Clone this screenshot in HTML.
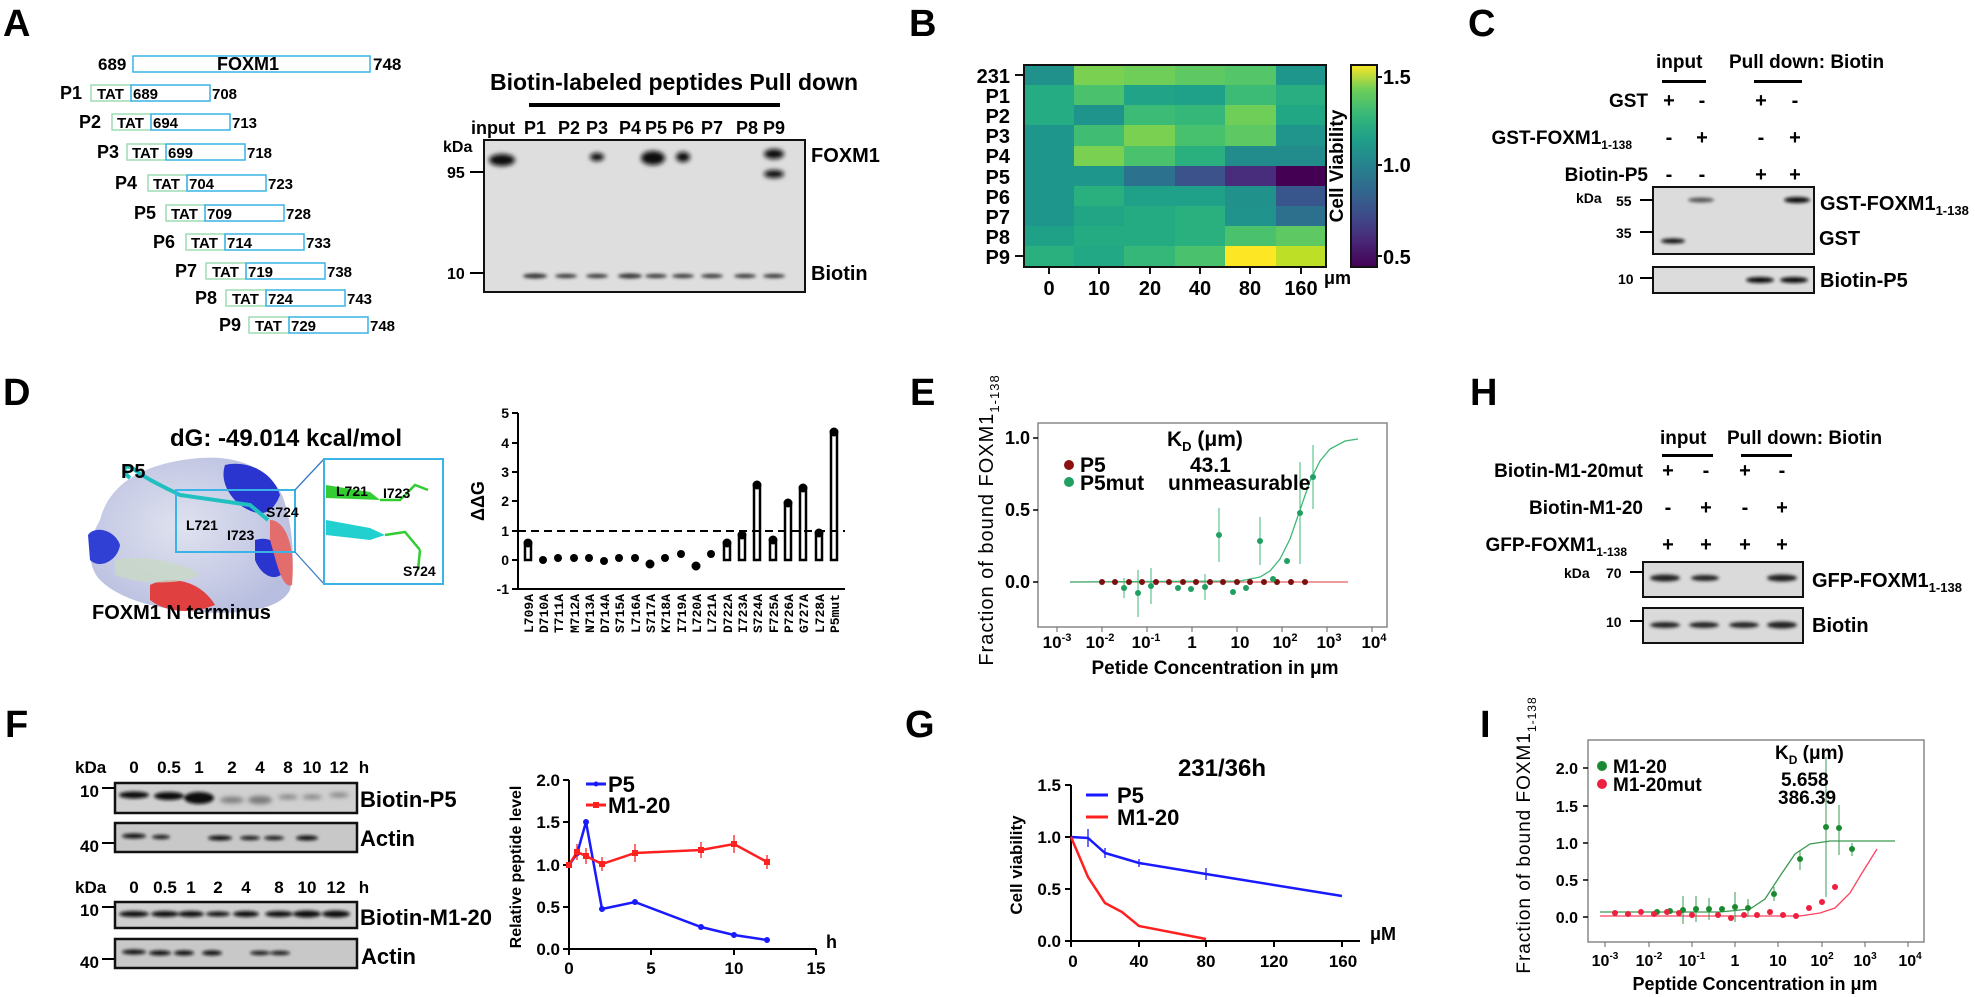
<!DOCTYPE html>
<html><head><meta charset="utf-8"><style>
html,body{margin:0;padding:0;background:#fff;}
svg{display:block;font-family:"Liberation Sans",Arial,sans-serif;}
.b{font-weight:bold;}
</style></head><body>
<svg width="1975" height="997" viewBox="0 0 1975 997" xmlns="http://www.w3.org/2000/svg">
<defs>
<filter id="bl" x="-50%" y="-200%" width="200%" height="500%"><feGaussianBlur stdDeviation="2.5"/></filter>
<filter id="bl2" x="-50%" y="-200%" width="200%" height="500%"><feGaussianBlur stdDeviation="1.5"/></filter>
<linearGradient id="vir" x1="0" y1="1" x2="0" y2="0">
<stop offset="0" stop-color="#440154"/><stop offset="0.13" stop-color="#482878"/><stop offset="0.25" stop-color="#3e4a89"/><stop offset="0.38" stop-color="#31688e"/><stop offset="0.5" stop-color="#26828e"/><stop offset="0.63" stop-color="#1f9e89"/><stop offset="0.75" stop-color="#35b779"/><stop offset="0.88" stop-color="#6ece58"/><stop offset="1" stop-color="#fde725"/></linearGradient>
<radialGradient id="prot" cx="0.45" cy="0.45" r="0.6"><stop offset="0" stop-color="#dfe2ee"/><stop offset="0.6" stop-color="#c9cde6"/><stop offset="1" stop-color="#b8bedf"/></radialGradient>
</defs>

<!-- Panel letters -->
<g class="b" font-size="38">
<text x="3" y="36">A</text><text x="909" y="36">B</text><text x="1468" y="36">C</text>
<text x="3" y="405">D</text><text x="910" y="405">E</text><text x="1470" y="405">H</text>
<text x="5" y="737">F</text><text x="905" y="737">G</text><text x="1480" y="737">I</text>
</g>

<!-- A diagram -->
<g class="b" font-size="17">
<text x="98" y="70">689</text>
<rect x="133" y="56" width="237" height="16" fill="none" stroke="#3ab3e6" stroke-width="1.5"/>
<text x="248" y="70" text-anchor="middle" font-size="18">FOXM1</text>
<text x="373" y="70">748</text>
</g>
<g font-size="15" class="b">
<!-- rows: label x, y center, TAT x -->
<g><text x="60" y="99" font-size="18">P1</text><rect x="91" y="85" width="40" height="16" fill="none" stroke="#8fd6a8" stroke-width="1.3"/><text x="97" y="99">TAT</text><rect x="131" y="85" width="79" height="16" fill="none" stroke="#3ab3e6" stroke-width="1.5"/><text x="133" y="99">689</text><text x="212" y="99">708</text></g>
<g><text x="79" y="128" font-size="18">P2</text><rect x="112" y="114" width="39" height="16" fill="none" stroke="#8fd6a8" stroke-width="1.3"/><text x="117" y="128">TAT</text><rect x="151" y="114" width="79" height="16" fill="none" stroke="#3ab3e6" stroke-width="1.5"/><text x="153" y="128">694</text><text x="232" y="128">713</text></g>
<g><text x="97" y="158" font-size="18">P3</text><rect x="127" y="144" width="39" height="16" fill="none" stroke="#8fd6a8" stroke-width="1.3"/><text x="132" y="158">TAT</text><rect x="166" y="144" width="79" height="16" fill="none" stroke="#3ab3e6" stroke-width="1.5"/><text x="168" y="158">699</text><text x="247" y="158">718</text></g>
<g><text x="115" y="189" font-size="18">P4</text><rect x="148" y="175" width="39" height="16" fill="none" stroke="#8fd6a8" stroke-width="1.3"/><text x="153" y="189">TAT</text><rect x="187" y="175" width="79" height="16" fill="none" stroke="#3ab3e6" stroke-width="1.5"/><text x="189" y="189">704</text><text x="268" y="189">723</text></g>
<g><text x="134" y="219" font-size="18">P5</text><rect x="166" y="205" width="39" height="16" fill="none" stroke="#8fd6a8" stroke-width="1.3"/><text x="171" y="219">TAT</text><rect x="205" y="205" width="79" height="16" fill="none" stroke="#3ab3e6" stroke-width="1.5"/><text x="207" y="219">709</text><text x="286" y="219">728</text></g>
<g><text x="153" y="248" font-size="18">P6</text><rect x="186" y="234" width="39" height="16" fill="none" stroke="#8fd6a8" stroke-width="1.3"/><text x="191" y="248">TAT</text><rect x="225" y="234" width="79" height="16" fill="none" stroke="#3ab3e6" stroke-width="1.5"/><text x="227" y="248">714</text><text x="306" y="248">733</text></g>
<g><text x="175" y="277" font-size="18">P7</text><rect x="206" y="263" width="40" height="16" fill="none" stroke="#8fd6a8" stroke-width="1.3"/><text x="212" y="277">TAT</text><rect x="246" y="263" width="79" height="16" fill="none" stroke="#3ab3e6" stroke-width="1.5"/><text x="248" y="277">719</text><text x="327" y="277">738</text></g>
<g><text x="195" y="304" font-size="18">P8</text><rect x="226" y="290" width="40" height="16" fill="none" stroke="#8fd6a8" stroke-width="1.3"/><text x="232" y="304">TAT</text><rect x="266" y="290" width="79" height="16" fill="none" stroke="#3ab3e6" stroke-width="1.5"/><text x="268" y="304">724</text><text x="347" y="304">743</text></g>
<g><text x="219" y="331" font-size="18">P9</text><rect x="249" y="317" width="40" height="16" fill="none" stroke="#8fd6a8" stroke-width="1.3"/><text x="255" y="331">TAT</text><rect x="289" y="317" width="79" height="16" fill="none" stroke="#3ab3e6" stroke-width="1.5"/><text x="291" y="331">729</text><text x="370" y="331">748</text></g>
</g>

<!-- A blot -->
<text x="490" y="90" class="b" font-size="23">Biotin-labeled peptides Pull down</text>
<rect x="529" y="103" width="251" height="4" fill="#000"/>
<g class="b" font-size="18" text-anchor="middle">
<text x="493" y="134">input</text><text x="535" y="134">P1</text><text x="569" y="134">P2</text><text x="597" y="134">P3</text><text x="630" y="134">P4</text><text x="656" y="134">P5</text><text x="683" y="134">P6</text><text x="712" y="134">P7</text><text x="747" y="134">P8</text><text x="774" y="134">P9</text>
</g>
<rect x="484" y="140" width="321" height="152" fill="#dedede" stroke="#111" stroke-width="2"/>
<g class="b" font-size="16"><text x="443" y="152">kDa</text><text x="447" y="178">95</text><text x="447" y="279">10</text></g>
<line x1="470" y1="172" x2="484" y2="172" stroke="#000" stroke-width="2"/><line x1="470" y1="273" x2="484" y2="273" stroke="#000" stroke-width="2"/>
<g fill="#111" filter="url(#bl)">
<ellipse cx="502" cy="160" rx="13" ry="6"/><ellipse cx="597" cy="157" rx="7" ry="4"/><ellipse cx="653" cy="158" rx="12" ry="7"/><ellipse cx="683" cy="157" rx="7" ry="5"/><ellipse cx="774" cy="154" rx="10" ry="5"/><ellipse cx="774" cy="174" rx="10" ry="4"/>
</g>
<g fill="#333" filter="url(#bl2)">
<ellipse cx="535" cy="276" rx="12" ry="2.5"/><ellipse cx="566" cy="276" rx="11" ry="2"/><ellipse cx="597" cy="276" rx="11" ry="2"/><ellipse cx="630" cy="276" rx="12" ry="2.5"/><ellipse cx="656" cy="276" rx="11" ry="2"/><ellipse cx="683" cy="276" rx="11" ry="2"/><ellipse cx="712" cy="276" rx="11" ry="2"/><ellipse cx="745" cy="276" rx="11" ry="2"/><ellipse cx="774" cy="276" rx="11" ry="2"/>
</g>
<g class="b" font-size="20"><text x="811" y="162">FOXM1</text><text x="811" y="280">Biotin</text></g>

<!-- B heatmap -->
<g>
<g id="hm"></g>
</g>
<g stroke="none">
<!-- rows -->
<rect x="1024" y="65" width="51" height="21" fill="#21918c"/><rect x="1074" y="65" width="51" height="21" fill="#7ad151"/><rect x="1124" y="65" width="51" height="21" fill="#6ece58"/><rect x="1175" y="65" width="51" height="21" fill="#5ec962"/><rect x="1225" y="65" width="51" height="21" fill="#54c568"/><rect x="1276" y="65" width="50" height="21" fill="#1f968b"/>
<rect x="1024" y="85" width="51" height="21" fill="#25ac82"/><rect x="1074" y="85" width="51" height="21" fill="#4ac16d"/><rect x="1124" y="85" width="51" height="21" fill="#20a386"/><rect x="1175" y="85" width="51" height="21" fill="#1fa088"/><rect x="1225" y="85" width="51" height="21" fill="#3bbb75"/><rect x="1276" y="85" width="50" height="21" fill="#28ae80"/>
<rect x="1024" y="105" width="51" height="21" fill="#25ac82"/><rect x="1074" y="105" width="51" height="21" fill="#1f948c"/><rect x="1124" y="105" width="51" height="21" fill="#3bbb75"/><rect x="1175" y="105" width="51" height="21" fill="#35b779"/><rect x="1225" y="105" width="51" height="21" fill="#6ece58"/><rect x="1276" y="105" width="50" height="21" fill="#22a785"/>
<rect x="1024" y="125" width="51" height="21" fill="#1f968b"/><rect x="1074" y="125" width="51" height="21" fill="#40bd72"/><rect x="1124" y="125" width="51" height="21" fill="#7ad151"/><rect x="1175" y="125" width="51" height="21" fill="#48c16e"/><rect x="1225" y="125" width="51" height="21" fill="#5ec962"/><rect x="1276" y="125" width="50" height="21" fill="#1f958b"/>
<rect x="1024" y="146" width="51" height="21" fill="#1f968b"/><rect x="1074" y="146" width="51" height="21" fill="#7ad151"/><rect x="1124" y="146" width="51" height="21" fill="#4ac16d"/><rect x="1175" y="146" width="51" height="21" fill="#2ab07f"/><rect x="1225" y="146" width="51" height="21" fill="#228c8d"/><rect x="1276" y="146" width="50" height="21" fill="#228c8d"/>
<rect x="1024" y="166" width="51" height="21" fill="#1f968b"/><rect x="1074" y="166" width="51" height="21" fill="#1f968b"/><rect x="1124" y="166" width="51" height="21" fill="#2c728e"/><rect x="1175" y="166" width="51" height="21" fill="#3b528b"/><rect x="1225" y="166" width="51" height="21" fill="#472d7b"/><rect x="1276" y="166" width="50" height="21" fill="#440154"/>
<rect x="1024" y="186" width="51" height="21" fill="#1f968b"/><rect x="1074" y="186" width="51" height="21" fill="#2ab07f"/><rect x="1124" y="186" width="51" height="21" fill="#1fa088"/><rect x="1175" y="186" width="51" height="21" fill="#1fa088"/><rect x="1225" y="186" width="51" height="21" fill="#21918c"/><rect x="1276" y="186" width="50" height="21" fill="#39568c"/>
<rect x="1024" y="206" width="51" height="21" fill="#1f968b"/><rect x="1074" y="206" width="51" height="21" fill="#21a585"/><rect x="1124" y="206" width="51" height="21" fill="#25ab82"/><rect x="1175" y="206" width="51" height="21" fill="#2ab07f"/><rect x="1225" y="206" width="51" height="21" fill="#20938c"/><rect x="1276" y="206" width="50" height="21" fill="#2d708e"/>
<rect x="1024" y="226" width="51" height="21" fill="#1fa188"/><rect x="1074" y="226" width="51" height="21" fill="#25ab82"/><rect x="1124" y="226" width="51" height="21" fill="#25ab82"/><rect x="1175" y="226" width="51" height="21" fill="#2ab07f"/><rect x="1225" y="226" width="51" height="21" fill="#4ac16d"/><rect x="1276" y="226" width="50" height="21" fill="#5ec962"/>
<rect x="1024" y="246" width="51" height="21" fill="#2ab07f"/><rect x="1074" y="246" width="51" height="21" fill="#22a884"/><rect x="1124" y="246" width="51" height="21" fill="#35b779"/><rect x="1175" y="246" width="51" height="21" fill="#4ac16d"/><rect x="1225" y="246" width="51" height="21" fill="#fde725"/><rect x="1276" y="246" width="50" height="21" fill="#bddf26"/>
</g>
<rect x="1024" y="65" width="302" height="202" fill="none" stroke="#111" stroke-width="2"/>
<g class="b" font-size="20" text-anchor="end">
<text x="1010" y="83">231</text><text x="1010" y="103">P1</text><text x="1010" y="123">P2</text><text x="1010" y="143">P3</text><text x="1010" y="163">P4</text><text x="1010" y="184">P5</text><text x="1010" y="204">P6</text><text x="1010" y="224">P7</text><text x="1010" y="244">P8</text><text x="1010" y="264">P9</text>
</g>
<g stroke="#111" stroke-width="2"><line x1="1015" y1="75" x2="1024" y2="75"/><line x1="1015" y1="256" x2="1024" y2="256"/>
<line x1="1049" y1="267" x2="1049" y2="274"/><line x1="1099" y1="267" x2="1099" y2="274"/><line x1="1150" y1="267" x2="1150" y2="274"/><line x1="1200" y1="267" x2="1200" y2="274"/><line x1="1250" y1="267" x2="1250" y2="274"/><line x1="1301" y1="267" x2="1301" y2="274"/></g>
<g class="b" font-size="20" text-anchor="middle">
<text x="1049" y="295">0</text><text x="1099" y="295">10</text><text x="1150" y="295">20</text><text x="1200" y="295">40</text><text x="1250" y="295">80</text><text x="1301" y="295">160</text>
</g>
<text x="1324" y="284" class="b" font-size="18">μm</text>
<rect x="1351" y="65" width="26" height="202" fill="url(#vir)" stroke="#111" stroke-width="2"/>
<g stroke="#111" stroke-width="2"><line x1="1377" y1="77" x2="1382" y2="77"/><line x1="1377" y1="165" x2="1382" y2="165"/><line x1="1377" y1="256" x2="1382" y2="256"/></g>
<g class="b" font-size="20"><text x="1383" y="84">1.5</text><text x="1383" y="172">1.0</text><text x="1383" y="264">0.5</text></g>
<text transform="translate(1343,166) rotate(-90)" text-anchor="middle" class="b" font-size="19">Cell Viability</text>

<!-- C -->
<g class="b" font-size="19">
<text x="1656" y="68">input</text><text x="1729" y="68">Pull down: Biotin</text>
<text x="1648" y="107" text-anchor="end">GST</text>
<text x="1632" y="144" text-anchor="end">GST-FOXM1<tspan font-size="12" dy="5">1-138</tspan></text>
<text x="1648" y="181" text-anchor="end">Biotin-P5</text>
</g>
<rect x="1662" y="80" width="44" height="3" fill="#000"/><rect x="1754" y="80" width="48" height="3" fill="#000"/>
<g class="b" font-size="20" text-anchor="middle">
<text x="1669" y="107">+</text><text x="1702" y="107">-</text><text x="1761" y="107">+</text><text x="1795" y="107">-</text>
<text x="1669" y="144">-</text><text x="1702" y="144">+</text><text x="1761" y="144">-</text><text x="1795" y="144">+</text>
<text x="1669" y="181">-</text><text x="1702" y="181">-</text><text x="1761" y="181">+</text><text x="1795" y="181">+</text>
</g>
<rect x="1653" y="187" width="161" height="67" fill="#dcdcdc" stroke="#111" stroke-width="2"/>
<rect x="1653" y="267" width="161" height="26" fill="#dcdcdc" stroke="#111" stroke-width="2"/>
<g fill="#111" filter="url(#bl2)"><ellipse cx="1701" cy="200" rx="13" ry="2.5" fill="#555"/><ellipse cx="1797" cy="200" rx="13" ry="3"/><ellipse cx="1673" cy="241" rx="12" ry="2.5"/><ellipse cx="1760" cy="280" rx="14" ry="3"/><ellipse cx="1794" cy="280" rx="14" ry="3"/></g>
<g class="b" font-size="14"><text x="1576" y="203">kDa</text><text x="1616" y="206">55</text><text x="1616" y="238">35</text><text x="1618" y="284">10</text></g>
<g stroke="#000" stroke-width="2"><line x1="1640" y1="200" x2="1653" y2="200"/><line x1="1640" y1="232" x2="1653" y2="232"/><line x1="1640" y1="278" x2="1653" y2="278"/></g>
<g class="b" font-size="20"><text x="1820" y="210">GST-FOXM1<tspan font-size="13" dy="5">1-138</tspan></text><text x="1819" y="245">GST</text><text x="1820" y="287">Biotin-P5</text></g>

<!-- H -->
<g class="b" font-size="19">
<text x="1660" y="444">input</text><text x="1727" y="444">Pull down: Biotin</text>
<text x="1643" y="477" text-anchor="end">Biotin-M1-20mut</text>
<text x="1643" y="514" text-anchor="end">Biotin-M1-20</text>
<text x="1627" y="551" text-anchor="end">GFP-FOXM1<tspan font-size="12" dy="5">1-138</tspan></text>
</g>
<rect x="1662" y="454" width="51" height="3" fill="#000"/><rect x="1741" y="454" width="51" height="3" fill="#000"/>
<g class="b" font-size="20" text-anchor="middle">
<text x="1668" y="477">+</text><text x="1706" y="477">-</text><text x="1745" y="477">+</text><text x="1782" y="477">-</text>
<text x="1668" y="514">-</text><text x="1706" y="514">+</text><text x="1745" y="514">-</text><text x="1782" y="514">+</text>
<text x="1668" y="551">+</text><text x="1706" y="551">+</text><text x="1745" y="551">+</text><text x="1782" y="551">+</text>
</g>
<rect x="1643" y="562" width="160" height="35" fill="#dadada" stroke="#111" stroke-width="2"/>
<rect x="1643" y="608" width="160" height="35" fill="#dadada" stroke="#111" stroke-width="2"/>
<g fill="#222" filter="url(#bl2)"><ellipse cx="1665" cy="578" rx="15" ry="3.5"/><ellipse cx="1705" cy="578" rx="14" ry="3"/><ellipse cx="1782" cy="578" rx="15" ry="3.5"/>
<ellipse cx="1665" cy="625" rx="15" ry="3"/><ellipse cx="1704" cy="625" rx="15" ry="3"/><ellipse cx="1744" cy="625" rx="15" ry="3"/><ellipse cx="1782" cy="625" rx="15" ry="3.5"/></g>
<g class="b" font-size="14"><text x="1564" y="578">kDa</text><text x="1606" y="578">70</text><text x="1606" y="627">10</text></g>
<g stroke="#000" stroke-width="2"><line x1="1630" y1="572" x2="1643" y2="572"/><line x1="1630" y1="621" x2="1643" y2="621"/></g>
<g class="b" font-size="20"><text x="1812" y="587">GFP-FOXM1<tspan font-size="13" dy="5">1-138</tspan></text><text x="1812" y="632">Biotin</text></g>

<!-- D structure -->
<text x="170" y="446" class="b" font-size="24">dG: -49.014 kcal/mol</text>
<g>
<path d="M100,520 C110,480 150,462 200,458 C240,455 270,470 282,495 C292,520 296,560 290,590 C280,610 240,615 200,612 C160,610 120,600 100,580 C86,565 88,540 100,520 Z" fill="url(#prot)"/>
<path d="M225,465 C245,460 272,470 280,495 C270,520 255,515 240,505 C228,495 220,480 225,465 Z" fill="#2a35d0"/>
<path d="M88,535 C95,525 115,530 120,545 C118,560 100,570 90,560 Z" fill="#3040d5"/>
<path d="M255,540 C270,535 285,545 288,565 C280,585 262,578 255,560 Z" fill="#2a35d0"/>
<path d="M150,585 C170,575 200,580 215,605 C190,615 165,612 150,600 Z" fill="#e04040"/>
<path d="M270,520 C285,520 296,545 292,585 C282,590 276,560 270,540 Z" fill="#e36c6c"/>
<path d="M115,560 C140,555 180,560 200,575 C180,585 140,585 115,575 Z" fill="#c8d8c6" opacity="0.8"/>
</g>
<path d="M130,478 C120,470 125,462 135,470 C145,478 160,485 180,495 L250,505 L268,520" fill="none" stroke="#20c0c0" stroke-width="4"/>
<text x="121" y="478" class="b" font-size="20">P5</text>
<rect x="176" y="490" width="119" height="62" fill="none" stroke="#3ab3e6" stroke-width="2"/>
<g class="b" font-size="14"><text x="186" y="530">L721</text><text x="227" y="540">I723</text><text x="266" y="517">S724</text></g>
<line x1="295" y1="490" x2="324" y2="459" stroke="#3a7ac6" stroke-width="1.3"/><line x1="295" y1="552" x2="324" y2="584" stroke="#3a7ac6" stroke-width="1.3"/>
<rect x="324" y="459" width="119" height="125" fill="#fff" stroke="#3ab3e6" stroke-width="2"/>
<path d="M326,485 L370,492 L380,500 L326,498 Z" fill="#33cc33"/>
<path d="M326,520 L370,528 L385,535 L370,540 L326,535 Z" fill="#22d0d0"/>
<path d="M380,500 L400,500 L415,485 L428,490 M385,535 L405,532 L420,550 M420,550 L418,570" stroke="#33cc33" stroke-width="2.5" fill="none"/>
<g class="b" font-size="14"><text x="336" y="496">L721</text><text x="383" y="498">I723</text><text x="403" y="576">S724</text></g>
<text x="92" y="619" class="b" font-size="20">FOXM1 N terminus</text>

<!-- D bar chart -->
<g stroke="#000" stroke-width="2"><line x1="518" y1="413" x2="518" y2="589"/><line x1="518" y1="589" x2="845" y2="589"/>
<line x1="512" y1="413" x2="518" y2="413"/><line x1="512" y1="443" x2="518" y2="443"/><line x1="512" y1="472" x2="518" y2="472"/><line x1="512" y1="501" x2="518" y2="501"/><line x1="512" y1="531" x2="518" y2="531"/><line x1="512" y1="560" x2="518" y2="560"/><line x1="512" y1="589" x2="518" y2="589"/></g>
<g class="b" font-size="14" text-anchor="end"><text x="509" y="418">5</text><text x="509" y="448">4</text><text x="509" y="477">3</text><text x="509" y="506">2</text><text x="509" y="536">1</text><text x="509" y="565">0</text><text x="509" y="594">-1</text></g>
<text transform="translate(484,501) rotate(-90)" text-anchor="middle" class="b" font-size="18">ΔΔG</text>
<g fill="#fff" stroke="#000" stroke-width="2.5">
<rect x="525" y="545" width="6" height="15"/><rect x="724" y="545" width="6" height="15"/><rect x="739" y="537" width="6" height="23"/><rect x="754" y="487" width="6" height="73"/><rect x="770" y="542" width="6" height="18"/><rect x="785" y="505" width="6" height="55"/><rect x="800" y="490" width="6" height="70"/><rect x="831" y="434" width="6" height="126"/><rect x="816" y="535" width="6" height="25"/>
</g>
<g fill="#000">
<circle cx="528" cy="543" r="4.5"/><circle cx="543" cy="560" r="4"/><circle cx="558" cy="558" r="4"/><circle cx="574" cy="558" r="4"/><circle cx="589" cy="558" r="4"/><circle cx="604" cy="561" r="4"/><circle cx="619" cy="558" r="4"/><circle cx="635" cy="558" r="4"/><circle cx="650" cy="564" r="4.5"/><circle cx="665" cy="558" r="4"/><circle cx="727" cy="543" r="4.5"/><circle cx="742" cy="535" r="4.5"/><circle cx="757" cy="485" r="4.5"/><circle cx="773" cy="540" r="4.5"/><circle cx="788" cy="503" r="4.5"/><circle cx="803" cy="488" r="4.5"/><circle cx="819" cy="533" r="4.5"/><circle cx="834" cy="432" r="4.5"/><circle cx="681" cy="554" r="4"/><circle cx="696" cy="566" r="4.5"/><circle cx="711" cy="554" r="4"/>
</g>
<line x1="518" y1="531" x2="845" y2="531" stroke="#000" stroke-width="2" stroke-dasharray="8,5"/>
<g class="b" font-size="13" font-family="Liberation Mono, monospace" text-anchor="end">
<text transform="translate(533,594) rotate(-90)">L709A</text><text transform="translate(548,594) rotate(-90)">D710A</text><text transform="translate(563,594) rotate(-90)">T711A</text><text transform="translate(579,594) rotate(-90)">M712A</text><text transform="translate(594,594) rotate(-90)">N713A</text><text transform="translate(609,594) rotate(-90)">D714A</text><text transform="translate(624,594) rotate(-90)">S715A</text><text transform="translate(640,594) rotate(-90)">L716A</text><text transform="translate(655,594) rotate(-90)">S717A</text><text transform="translate(670,594) rotate(-90)">K718A</text><text transform="translate(686,594) rotate(-90)">I719A</text><text transform="translate(701,594) rotate(-90)">L720A</text><text transform="translate(716,594) rotate(-90)">L721A</text><text transform="translate(732,594) rotate(-90)">D722A</text><text transform="translate(747,594) rotate(-90)">I723A</text><text transform="translate(762,594) rotate(-90)">S724A</text><text transform="translate(778,594) rotate(-90)">F725A</text><text transform="translate(793,594) rotate(-90)">P726A</text><text transform="translate(808,594) rotate(-90)">G727A</text><text transform="translate(824,594) rotate(-90)">L728A</text><text transform="translate(839,594) rotate(-90)">P5mut</text>
</g>

<!-- E -->
<rect x="1038" y="423" width="349" height="204" fill="#fff" stroke="#888" stroke-width="1.5"/>
<g stroke="#000" stroke-width="1.5"><line x1="1033" y1="438" x2="1038" y2="438"/><line x1="1033" y1="510" x2="1038" y2="510"/><line x1="1033" y1="582" x2="1038" y2="582"/></g>
<g class="b" font-size="18" text-anchor="end"><text x="1030" y="444">1.0</text><text x="1030" y="516">0.5</text><text x="1030" y="588">0.0</text></g>
<text transform="translate(993,520) rotate(-90)" text-anchor="middle" font-size="20" letter-spacing="1">Fraction of bound FOXM1<tspan font-size="13" dy="6">1-138</tspan></text>
<g stroke="#666" stroke-width="1"><line x1="1057" y1="627" x2="1057" y2="632"/><line x1="1102" y1="627" x2="1102" y2="632"/><line x1="1147" y1="627" x2="1147" y2="632"/><line x1="1192" y1="627" x2="1192" y2="632"/><line x1="1237" y1="627" x2="1237" y2="632"/><line x1="1282" y1="627" x2="1282" y2="632"/><line x1="1327" y1="627" x2="1327" y2="632"/><line x1="1372" y1="627" x2="1372" y2="632"/></g>
<g class="b" font-size="17" text-anchor="middle">
<text x="1057" y="648">10<tspan font-size="11" dy="-7">-3</tspan></text><text x="1100" y="648">10<tspan font-size="11" dy="-7">-2</tspan></text><text x="1146" y="648">10<tspan font-size="11" dy="-7">-1</tspan></text><text x="1192" y="648">1</text><text x="1240" y="648">10</text><text x="1285" y="648">10<tspan font-size="11" dy="-7">2</tspan></text><text x="1329" y="648">10<tspan font-size="11" dy="-7">3</tspan></text><text x="1374" y="648">10<tspan font-size="11" dy="-7">4</tspan></text>
</g>
<text x="1215" y="674" text-anchor="middle" class="b" font-size="19">Petide Concentration in μm</text>
<line x1="1070" y1="582" x2="1348" y2="582" stroke="#e06060" stroke-width="1.3"/>
<polyline points="1070,582 1240,581 1260,577 1270,571 1280,559 1290,539 1300,510 1310,481 1320,461 1330,449 1345,441 1358,439" fill="none" stroke="#3cb878" stroke-width="1.3"/>
<g stroke="#3cb878" stroke-width="1"><line x1="1138" y1="570" x2="1138" y2="617"/><line x1="1151" y1="568" x2="1151" y2="604"/><line x1="1219" y1="508" x2="1219" y2="562"/><line x1="1260" y1="517" x2="1260" y2="565"/><line x1="1300" y1="462" x2="1300" y2="564"/><line x1="1313" y1="445" x2="1313" y2="509"/><line x1="1124" y1="578" x2="1124" y2="598"/><line x1="1205" y1="574" x2="1205" y2="600"/></g>
<g fill="#7b1010"><circle cx="1102" cy="582" r="3"/><circle cx="1115" cy="582" r="3"/><circle cx="1129" cy="582" r="3"/><circle cx="1142" cy="582" r="3"/><circle cx="1156" cy="582" r="3"/><circle cx="1169" cy="582" r="3"/><circle cx="1183" cy="582" r="3"/><circle cx="1196" cy="582" r="3"/><circle cx="1210" cy="582" r="3"/><circle cx="1223" cy="582" r="3"/><circle cx="1237" cy="582" r="3"/><circle cx="1250" cy="582" r="3"/><circle cx="1264" cy="582" r="3"/><circle cx="1277" cy="582" r="3"/><circle cx="1291" cy="582" r="3"/><circle cx="1305" cy="582" r="3"/></g>
<g fill="#20a060"><circle cx="1124" cy="588" r="3"/><circle cx="1138" cy="593" r="3"/><circle cx="1151" cy="586" r="3"/><circle cx="1178" cy="588" r="3"/><circle cx="1191" cy="589" r="3"/><circle cx="1205" cy="587" r="3"/><circle cx="1219" cy="535" r="3"/><circle cx="1233" cy="592" r="3"/><circle cx="1246" cy="588" r="3"/><circle cx="1260" cy="541" r="3"/><circle cx="1273" cy="579" r="3"/><circle cx="1287" cy="561" r="3"/><circle cx="1300" cy="513" r="3"/><circle cx="1313" cy="477" r="3"/></g>
<circle cx="1069" cy="465" r="5" fill="#8b1010"/><circle cx="1069" cy="482" r="5" fill="#20a060"/>
<g class="b" font-size="21"><text x="1080" y="472">P5</text><text x="1190" y="472">43.1</text><text x="1080" y="490">P5mut</text><text x="1168" y="490">unmeasurable</text><text x="1167" y="446">K<tspan font-size="13" dy="5">D</tspan><tspan dy="-5"> (μm)</tspan></text></g>

<!-- F blots -->
<g class="b" font-size="17">
<text x="75" y="773">kDa</text><g text-anchor="middle"><text x="134" y="773">0</text><text x="169" y="773">0.5</text><text x="199" y="773">1</text><text x="232" y="773">2</text><text x="260" y="773">4</text><text x="288" y="773">8</text><text x="312" y="773">10</text><text x="339" y="773">12</text><text x="364" y="773">h</text></g>
<text x="75" y="893">kDa</text><g text-anchor="middle"><text x="134" y="893">0</text><text x="165" y="893">0.5</text><text x="191" y="893">1</text><text x="218" y="893">2</text><text x="246" y="893">4</text><text x="279" y="893">8</text><text x="307" y="893">10</text><text x="336" y="893">12</text><text x="364" y="893">h</text></g>
<text x="80" y="797">10</text><text x="80" y="852">40</text><text x="80" y="916">10</text><text x="80" y="968">40</text>
</g>
<g stroke="#000" stroke-width="2"><line x1="102" y1="788" x2="115" y2="788"/><line x1="102" y1="843" x2="115" y2="843"/><line x1="102" y1="907" x2="115" y2="907"/><line x1="102" y1="959" x2="115" y2="959"/></g>
<rect x="115" y="783" width="242" height="30" fill="#d0d0d0" stroke="#111" stroke-width="2.5"/>
<rect x="115" y="823" width="242" height="29" fill="#c8c8c8" stroke="#111" stroke-width="2.5"/>
<rect x="115" y="902" width="242" height="26" fill="#d0d0d0" stroke="#111" stroke-width="2.5"/>
<rect x="115" y="939" width="242" height="29" fill="#c8c8c8" stroke="#111" stroke-width="2.5"/>
<g fill="#111" filter="url(#bl2)"><ellipse cx="134" cy="795" rx="15" ry="3.5"/><ellipse cx="169" cy="796" rx="15" ry="4"/><ellipse cx="199" cy="798" rx="15" ry="6"/>
<ellipse cx="134" cy="914" rx="15" ry="3"/><ellipse cx="165" cy="914" rx="14" ry="3"/><ellipse cx="191" cy="914" rx="13" ry="3"/><ellipse cx="218" cy="914" rx="12" ry="2.5"/><ellipse cx="246" cy="914" rx="13" ry="3"/><ellipse cx="279" cy="914" rx="14" ry="3"/><ellipse cx="307" cy="914" rx="14" ry="3.5"/><ellipse cx="336" cy="914" rx="14" ry="3.5"/>
<ellipse cx="134" cy="836" rx="12" ry="2.5"/><ellipse cx="161" cy="837" rx="9" ry="2"/><ellipse cx="220" cy="838" rx="12" ry="2.5"/><ellipse cx="250" cy="838" rx="10" ry="2"/><ellipse cx="274" cy="838" rx="10" ry="2"/><ellipse cx="307" cy="838" rx="11" ry="2.5"/>
<ellipse cx="134" cy="952" rx="12" ry="2.5"/><ellipse cx="160" cy="953" rx="11" ry="2.5"/><ellipse cx="184" cy="953" rx="10" ry="2.5"/><ellipse cx="212" cy="953" rx="10" ry="2.5"/><ellipse cx="260" cy="953" rx="10" ry="2"/><ellipse cx="280" cy="953" rx="10" ry="2"/></g>
<g fill="#777" filter="url(#bl)"><ellipse cx="232" cy="800" rx="12" ry="3"/><ellipse cx="260" cy="800" rx="12" ry="4"/><ellipse cx="288" cy="797" rx="10" ry="2"/><ellipse cx="312" cy="797" rx="10" ry="2"/><ellipse cx="339" cy="795" rx="10" ry="2"/></g>
<g class="b" font-size="22"><text x="360" y="807">Biotin-P5</text><text x="360" y="846">Actin</text><text x="360" y="925">Biotin-M1-20</text><text x="361" y="964">Actin</text></g>

<!-- F chart -->
<g stroke="#000" stroke-width="2"><line x1="569" y1="780" x2="569" y2="949"/><line x1="569" y1="949" x2="816" y2="949"/>
<line x1="563" y1="780" x2="569" y2="780"/><line x1="563" y1="822" x2="569" y2="822"/><line x1="563" y1="865" x2="569" y2="865"/><line x1="563" y1="907" x2="569" y2="907"/><line x1="563" y1="949" x2="569" y2="949"/>
<line x1="569" y1="949" x2="569" y2="955"/><line x1="651" y1="949" x2="651" y2="955"/><line x1="734" y1="949" x2="734" y2="955"/><line x1="816" y1="949" x2="816" y2="955"/></g>
<g class="b" font-size="17" text-anchor="end"><text x="560" y="786">2.0</text><text x="560" y="828">1.5</text><text x="560" y="871">1.0</text><text x="560" y="913">0.5</text><text x="560" y="955">0.0</text></g>
<g class="b" font-size="17" text-anchor="middle"><text x="569" y="974">0</text><text x="651" y="974">5</text><text x="734" y="974">10</text><text x="816" y="974">15</text></g>
<text x="826" y="948" class="b" font-size="18">h</text>
<text transform="translate(521,867) rotate(-90)" text-anchor="middle" class="b" font-size="16">Relative peptide level</text>
<polyline points="569,865 577,854 586,822 602,909 635,902 701,927 734,935 767,940" fill="none" stroke="#1a1aff" stroke-width="2.5"/>
<polyline points="569,865 577,852 586,856 602,864 635,853 701,850 734,844 767,862" fill="none" stroke="#ff2020" stroke-width="2.5"/>
<g fill="#1a1aff"><circle cx="569" cy="865" r="2.5"/><circle cx="577" cy="854" r="2.5"/><circle cx="586" cy="822" r="3"/><circle cx="602" cy="909" r="3"/><circle cx="635" cy="902" r="3"/><circle cx="701" cy="927" r="3"/><circle cx="734" cy="935" r="3"/><circle cx="767" cy="940" r="3"/></g>
<g fill="#ff2020"><rect x="566" y="862" width="6" height="6"/><rect x="574" y="849" width="6" height="6"/><rect x="583" y="853" width="6" height="6"/><rect x="599" y="861" width="6" height="6"/><rect x="632" y="850" width="6" height="6"/><rect x="698" y="847" width="6" height="6"/><rect x="731" y="841" width="6" height="6"/><rect x="764" y="859" width="6" height="6"/></g>
<g stroke="#ff2020" stroke-width="1.3"><line x1="577" y1="844" x2="577" y2="860"/><line x1="586" y1="848" x2="586" y2="864"/><line x1="602" y1="857" x2="602" y2="871"/><line x1="635" y1="844" x2="635" y2="862"/><line x1="701" y1="842" x2="701" y2="858"/><line x1="734" y1="835" x2="734" y2="853"/><line x1="767" y1="855" x2="767" y2="869"/></g>
<line x1="586" y1="784" x2="606" y2="784" stroke="#1a1aff" stroke-width="3"/><circle cx="596" cy="784" r="2.5" fill="#1a1aff"/>
<line x1="586" y1="805" x2="606" y2="805" stroke="#ff2020" stroke-width="3"/><rect x="593" y="802" width="6" height="6" fill="#ff2020"/>
<g class="b" font-size="22"><text x="608" y="792">P5</text><text x="608" y="813">M1-20</text></g>

<!-- G chart -->
<text x="1222" y="776" text-anchor="middle" class="b" font-size="24">231/36h</text>
<g stroke="#000" stroke-width="2"><line x1="1071" y1="785" x2="1071" y2="941"/><line x1="1071" y1="941" x2="1360" y2="941"/>
<line x1="1065" y1="785" x2="1071" y2="785"/><line x1="1065" y1="837" x2="1071" y2="837"/><line x1="1065" y1="889" x2="1071" y2="889"/><line x1="1065" y1="941" x2="1071" y2="941"/>
<line x1="1071" y1="941" x2="1071" y2="947"/><line x1="1139" y1="941" x2="1139" y2="947"/><line x1="1206" y1="941" x2="1206" y2="947"/><line x1="1274" y1="941" x2="1274" y2="947"/><line x1="1342" y1="941" x2="1342" y2="947"/></g>
<g class="b" font-size="17" text-anchor="end"><text x="1061" y="791">1.5</text><text x="1061" y="843">1.0</text><text x="1061" y="895">0.5</text><text x="1061" y="947">0.0</text></g>
<g class="b" font-size="17" text-anchor="middle"><text x="1073" y="967">0</text><text x="1139" y="967">40</text><text x="1206" y="967">80</text><text x="1274" y="967">120</text><text x="1343" y="967">160</text></g>
<text x="1370" y="940" class="b" font-size="18">μM</text>
<text transform="translate(1022,865) rotate(-90)" text-anchor="middle" class="b" font-size="17">Cell viability</text>
<polyline points="1071,837 1088,838 1105,853 1139,863 1206,874 1342,896" fill="none" stroke="#1a1aff" stroke-width="2.5"/>
<polyline points="1071,837 1088,877 1105,903 1122,912 1139,926 1206,939" fill="none" stroke="#ff2020" stroke-width="2.5"/>
<g stroke="#1a1aff" stroke-width="1.3"><line x1="1088" y1="829" x2="1088" y2="847"/><line x1="1105" y1="848" x2="1105" y2="858"/><line x1="1139" y1="859" x2="1139" y2="867"/><line x1="1206" y1="868" x2="1206" y2="880"/></g>
<line x1="1086" y1="795" x2="1108" y2="795" stroke="#1a1aff" stroke-width="3"/><line x1="1086" y1="817" x2="1108" y2="817" stroke="#ff2020" stroke-width="3"/>
<g class="b" font-size="22"><text x="1117" y="803">P5</text><text x="1117" y="825">M1-20</text></g>

<!-- I chart -->
<rect x="1588" y="740" width="336" height="202" fill="#fff" stroke="#888" stroke-width="1.5"/>
<g stroke="#000" stroke-width="1.5"><line x1="1583" y1="768" x2="1588" y2="768"/><line x1="1583" y1="806" x2="1588" y2="806"/><line x1="1583" y1="843" x2="1588" y2="843"/><line x1="1583" y1="880" x2="1588" y2="880"/><line x1="1583" y1="917" x2="1588" y2="917"/></g>
<g class="b" font-size="16" text-anchor="end"><text x="1578" y="774">2.0</text><text x="1578" y="812">1.5</text><text x="1578" y="849">1.0</text><text x="1578" y="886">0.5</text><text x="1578" y="923">0.0</text></g>
<text transform="translate(1530,835) rotate(-90)" text-anchor="middle" font-size="19" letter-spacing="1">Fraction of bound FOXM1<tspan font-size="12" dy="6">1-138</tspan></text>
<g stroke="#666" stroke-width="1"><line x1="1605" y1="942" x2="1605" y2="947"/><line x1="1649" y1="942" x2="1649" y2="947"/><line x1="1692" y1="942" x2="1692" y2="947"/><line x1="1735" y1="942" x2="1735" y2="947"/><line x1="1778" y1="942" x2="1778" y2="947"/><line x1="1822" y1="942" x2="1822" y2="947"/><line x1="1865" y1="942" x2="1865" y2="947"/><line x1="1908" y1="942" x2="1908" y2="947"/></g>
<g class="b" font-size="16" text-anchor="middle">
<text x="1605" y="966">10<tspan font-size="10" dy="-7">-3</tspan></text><text x="1649" y="966">10<tspan font-size="10" dy="-7">-2</tspan></text><text x="1692" y="966">10<tspan font-size="10" dy="-7">-1</tspan></text><text x="1735" y="966">1</text><text x="1778" y="966">10</text><text x="1822" y="966">10<tspan font-size="10" dy="-7">2</tspan></text><text x="1865" y="966">10<tspan font-size="10" dy="-7">3</tspan></text><text x="1910" y="966">10<tspan font-size="10" dy="-7">4</tspan></text>
</g>
<text x="1755" y="990" text-anchor="middle" class="b" font-size="18">Peptide Concentration in μm</text>
<polyline points="1600,912 1720,912 1750,909 1765,899 1780,876 1795,854 1810,844 1830,841 1895,841" fill="none" stroke="#3a9a50" stroke-width="1.3"/>
<polyline points="1600,916 1800,916 1820,913 1835,908 1850,893 1862,873 1877,849" fill="none" stroke="#ff4060" stroke-width="1.3"/>
<g stroke="#3a9a50" stroke-width="1"><line x1="1683" y1="896" x2="1683" y2="924"/><line x1="1696" y1="896" x2="1696" y2="922"/><line x1="1709" y1="898" x2="1709" y2="920"/><line x1="1735" y1="892" x2="1735" y2="922"/><line x1="1748" y1="899" x2="1748" y2="917"/><line x1="1774" y1="887" x2="1774" y2="901"/><line x1="1800" y1="850" x2="1800" y2="870"/><line x1="1826" y1="757" x2="1826" y2="897"/><line x1="1839" y1="805" x2="1839" y2="855"/><line x1="1852" y1="843" x2="1852" y2="856"/></g>
<g fill="#1a8a30"><circle cx="1657" cy="912" r="3"/><circle cx="1670" cy="911" r="3"/><circle cx="1683" cy="910" r="3"/><circle cx="1696" cy="909" r="3"/><circle cx="1709" cy="909" r="3"/><circle cx="1722" cy="909" r="3"/><circle cx="1735" cy="907" r="3"/><circle cx="1748" cy="908" r="3"/><circle cx="1774" cy="894" r="3"/><circle cx="1800" cy="859" r="3"/><circle cx="1826" cy="827" r="3"/><circle cx="1839" cy="828" r="3"/><circle cx="1852" cy="849" r="3"/></g>
<g fill="#ee2040"><circle cx="1615" cy="913" r="3"/><circle cx="1628" cy="914" r="3"/><circle cx="1641" cy="912" r="3"/><circle cx="1654" cy="914" r="3"/><circle cx="1667" cy="912" r="3"/><circle cx="1679" cy="913" r="3"/><circle cx="1692" cy="915" r="3"/><circle cx="1718" cy="915" r="3"/><circle cx="1731" cy="918" r="3"/><circle cx="1744" cy="915" r="3"/><circle cx="1757" cy="915" r="3"/><circle cx="1770" cy="912" r="3"/><circle cx="1783" cy="915" r="3"/><circle cx="1796" cy="916" r="3"/><circle cx="1809" cy="908" r="3"/><circle cx="1822" cy="902" r="3"/><circle cx="1835" cy="887" r="3"/></g>
<circle cx="1602" cy="766" r="5" fill="#1a8a30"/><circle cx="1602" cy="784" r="5" fill="#ee2040"/>
<g class="b" font-size="19"><text x="1613" y="773">M1-20</text><text x="1613" y="791">M1-20mut</text><text x="1775" y="759">K<tspan font-size="12" dy="5">D</tspan><tspan dy="-5"> (μm)</tspan></text><text x="1781" y="786">5.658</text><text x="1778" y="804">386.39</text></g>
</svg>
</body></html>
